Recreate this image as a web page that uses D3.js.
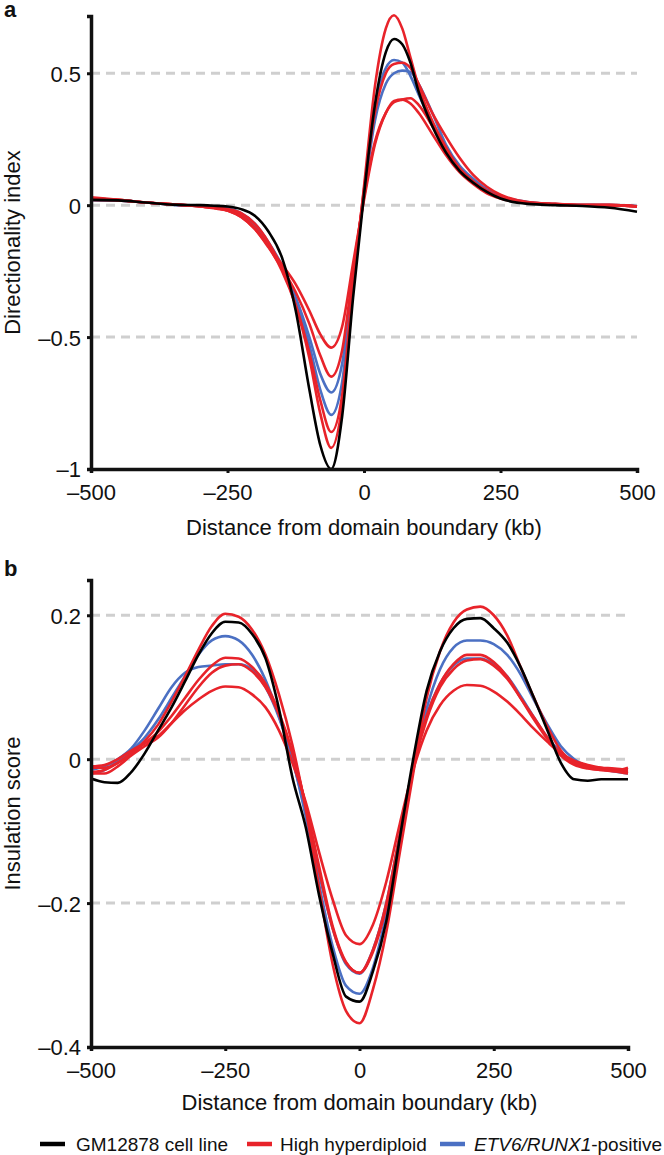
<!DOCTYPE html>
<html><head><meta charset="utf-8">
<script src="https://cdn.jsdelivr.net/npm/d3@7"></script>
<style>body{margin:0;background:#fff} text{font-family:"Liberation Sans",Arial,Helvetica,sans-serif;fill:#111;}</style>
</head><body><svg id="c" width="664" height="1155"></svg>
<script>
// ---------- Panel a: Directionality index ----------
const xA = [-500,-450,-400,-350,-300,-275,-250,-225,-200,-175,-150,-125,-100,-80,-60,-40,-20,0,20,40,55,70,85,100,125,150,175,200,225,250,300,350,400,450,500];
const aBlack = [0.02,0.018,0.01,0.002,0.0,-0.002,-0.005,-0.015,-0.04,-0.1,-0.2,-0.40,-0.70,-0.91,-1.0,-0.8,-0.35,0.04,0.38,0.58,0.63,0.61,0.54,0.43,0.30,0.20,0.13,0.085,0.05,0.025,0.005,0.0,-0.003,-0.01,-0.025];
const aRed1 = [0.025,0.02,0.01,0.003,-0.003,-0.008,-0.015,-0.03,-0.07,-0.14,-0.24,-0.38,-0.58,-0.79,-0.92,-0.76,-0.32,0.07,0.45,0.67,0.72,0.67,0.56,0.45,0.32,0.22,0.14,0.09,0.055,0.03,0.01,0.005,0.0,0.0,-0.005];
const aRed2 = [0.03,0.02,0.01,0.003,-0.005,-0.012,-0.02,-0.04,-0.085,-0.155,-0.25,-0.38,-0.56,-0.74,-0.86,-0.72,-0.3,0.06,0.35,0.50,0.535,0.54,0.52,0.46,0.35,0.26,0.18,0.115,0.07,0.04,0.012,0.005,0.0,0.0,-0.005];
const aRed3 = [0.02,0.018,0.01,0.003,-0.004,-0.01,-0.02,-0.045,-0.09,-0.16,-0.24,-0.33,-0.45,-0.57,-0.65,-0.55,-0.25,0.03,0.24,0.35,0.39,0.40,0.405,0.38,0.30,0.21,0.14,0.09,0.05,0.028,0.01,0.003,0.0,0.0,-0.005];
const aRed4 = [0.025,0.02,0.01,0.003,-0.004,-0.01,-0.02,-0.045,-0.09,-0.155,-0.225,-0.30,-0.40,-0.49,-0.54,-0.46,-0.22,0.02,0.23,0.35,0.395,0.40,0.385,0.35,0.27,0.19,0.125,0.08,0.045,0.025,0.008,0.002,0.0,0.0,-0.004];
const aBlue1 = [0.02,0.018,0.01,0.002,-0.003,-0.007,-0.012,-0.03,-0.07,-0.14,-0.23,-0.36,-0.53,-0.70,-0.795,-0.67,-0.29,0.05,0.37,0.52,0.55,0.54,0.49,0.42,0.31,0.21,0.14,0.09,0.055,0.032,0.01,0.003,0.0,0.0,-0.004];
const aBlue2 = [0.02,0.018,0.01,0.002,-0.003,-0.008,-0.015,-0.035,-0.075,-0.145,-0.235,-0.35,-0.50,-0.64,-0.71,-0.60,-0.27,0.04,0.32,0.46,0.50,0.51,0.505,0.46,0.35,0.23,0.15,0.10,0.06,0.035,0.012,0.004,0.0,0.0,-0.004];
const aYTicks = [-1,-0.5,0,0.5];

// ---------- Panel b: Insulation score ----------
const xB = [-500,-475,-450,-425,-400,-375,-350,-325,-300,-275,-250,-225,-200,-175,-150,-125,-100,-75,-50,-25,0,25,50,75,100,125,150,175,200,225,250,275,300,325,350,375,400,425,450,475,500];
const bBlack = [-0.027,-0.032,-0.033,-0.018,0.008,0.04,0.072,0.108,0.145,0.175,0.191,0.19,0.174,0.14,0.07,-0.025,-0.095,-0.19,-0.27,-0.33,-0.337,-0.295,-0.225,-0.11,0.0,0.095,0.15,0.182,0.195,0.196,0.182,0.162,0.128,0.085,0.04,-0.005,-0.028,-0.03,-0.028,-0.028,-0.028];
const bRed1 = [-0.012,-0.012,-0.005,0.008,0.025,0.048,0.08,0.115,0.152,0.185,0.202,0.198,0.18,0.145,0.09,0.02,-0.07,-0.18,-0.285,-0.35,-0.367,-0.32,-0.24,-0.13,-0.02,0.085,0.15,0.19,0.208,0.212,0.2,0.172,0.128,0.085,0.045,0.012,-0.005,-0.012,-0.015,-0.017,-0.02];
const bRed2 = [-0.018,-0.015,-0.005,0.008,0.022,0.038,0.06,0.085,0.11,0.13,0.141,0.14,0.128,0.105,0.065,0.01,-0.065,-0.155,-0.235,-0.283,-0.297,-0.265,-0.2,-0.105,-0.01,0.06,0.105,0.132,0.145,0.145,0.135,0.115,0.085,0.055,0.028,0.008,-0.005,-0.01,-0.012,-0.013,-0.015];
const bRed3 = [-0.02,-0.02,-0.01,0.005,0.018,0.03,0.05,0.075,0.1,0.12,0.13,0.132,0.122,0.1,0.062,0.008,-0.065,-0.15,-0.232,-0.282,-0.297,-0.268,-0.205,-0.11,-0.012,0.055,0.1,0.125,0.137,0.139,0.13,0.112,0.085,0.058,0.03,0.005,-0.008,-0.013,-0.015,-0.016,-0.012];
const bRed4 = [-0.01,-0.008,0.0,0.012,0.022,0.032,0.05,0.068,0.083,0.095,0.101,0.1,0.09,0.072,0.04,-0.005,-0.06,-0.13,-0.195,-0.245,-0.257,-0.23,-0.17,-0.09,-0.015,0.04,0.075,0.095,0.103,0.102,0.094,0.08,0.062,0.042,0.024,0.008,-0.002,-0.008,-0.012,-0.015,-0.018];
const bBlue1 = [-0.02,-0.015,-0.003,0.012,0.03,0.055,0.085,0.115,0.145,0.165,0.171,0.165,0.145,0.11,0.06,0.0,-0.08,-0.175,-0.26,-0.315,-0.326,-0.29,-0.215,-0.115,-0.015,0.07,0.125,0.155,0.165,0.165,0.16,0.145,0.118,0.082,0.048,0.018,0.0,-0.01,-0.014,-0.017,-0.02];
const bBlue2 = [-0.015,-0.01,0.0,0.015,0.04,0.07,0.1,0.12,0.128,0.13,0.132,0.132,0.125,0.1,0.058,0.0,-0.075,-0.16,-0.235,-0.285,-0.298,-0.265,-0.2,-0.105,-0.01,0.06,0.105,0.13,0.14,0.14,0.132,0.115,0.088,0.058,0.03,0.01,-0.004,-0.01,-0.013,-0.015,-0.016];
const bYTicks = [-0.4,-0.2,0,0.2];

const xTicks = [-500,-250,0,250,500];
const legendItems = ["GM12878 cell line","High hyperdiploid","ETV6/RUNX1"];

const RED = "#e8232a", BLUE = "#4b70c3", BLACK = "#000";
const svg = d3.select("#c");
svg.append("rect").attr("width",664).attr("height",1155).attr("fill","#fff");

function fmt(d){ const s = d3.format("~g")(Math.abs(d)); return d < 0 ? "\u2013" + s : s; }

function panel(cfg){
  const g = svg.append("g");
  const x = d3.scaleLinear().domain([-500,500]).range(cfg.xRange);
  const y = d3.scaleLinear().domain(cfg.yDomain).range(cfg.yRange);
  g.selectAll("line.grid").data(cfg.grid).join("line")
    .attr("x1", x(-500)).attr("x2", x(500))
    .attr("y1", d=>y(d)).attr("y2", d=>y(d))
    .attr("stroke","#cfcfcf").attr("stroke-width",3).attr("stroke-dasharray","9,6");
  const line = d3.line().x((d,i)=>x(cfg.xs[i])).y(d=>y(d)).curve(d3.curveMonotoneX);
  cfg.series.forEach(s=>{
    g.append("path").datum(s.v).attr("d",line).attr("fill","none")
      .attr("stroke",s.c).attr("stroke-width",2.6).attr("stroke-linejoin","round");
  });
  const ya = g.append("g").attr("transform",`translate(${cfg.xRange[0]},0)`)
    .call(d3.axisLeft(y).tickValues(cfg.yTicks).tickFormat(fmt).tickSizeOuter(0).tickSize(4).tickPadding(6));
  const xa = g.append("g").attr("transform",`translate(0,${cfg.yRange[0]})`)
    .call(d3.axisBottom(x).tickValues(xTicks).tickFormat(fmt).tickSizeOuter(0).tickSize(4).tickPadding(5));
  [ya,xa].forEach(a=>{
    a.select(".domain").attr("stroke","#111").attr("stroke-width",3.5);
    a.selectAll(".tick line").attr("stroke","#111").attr("stroke-width",3);
    a.selectAll(".tick text").attr("font-size",22).attr("fill","#111")
      .style("font-family",'"Liberation Sans",Arial,sans-serif');
  });
  ya.selectAll(".tick text").attr("dy","0.36em");
  xa.selectAll(".tick text").attr("dy","1em");
  svg.append("text").attr("x",(cfg.xRange[0]+cfg.xRange[1])/2).attr("y",cfg.xTitleY)
    .attr("text-anchor","middle").attr("font-size",22).text("Distance from domain boundary (kb)");
  svg.append("text").attr("transform",`translate(20,${(cfg.yRange[0]+cfg.yRange[1])/2}) rotate(-90)`)
    .attr("text-anchor","middle").attr("font-size",22).text(cfg.yTitle);
  svg.append("text").attr("x",4).attr("y",cfg.labelY).attr("font-size",22)
    .attr("font-weight","bold").text(cfg.label);
}

panel({xs:xA, xRange:[91,637], yDomain:[-1,0.717], yRange:[469,16], yTicks:aYTicks, grid:[-0.5,0,0.5],
  series:[{v:aBlue2,c:BLUE},{v:aBlue1,c:BLUE},{v:aRed4,c:RED},{v:aRed3,c:RED},{v:aRed2,c:RED},{v:aRed1,c:RED},{v:aBlack,c:BLACK}],
  yTitle:"Directionality index", label:"a", labelY:17, xTitleY:535});

panel({xs:xB, xRange:[91,628], yDomain:[-0.4,0.249], yRange:[1047,580], yTicks:bYTicks, grid:[-0.2,0,0.2],
  series:[{v:bBlue2,c:BLUE},{v:bBlue1,c:BLUE},{v:bRed4,c:RED},{v:bRed3,c:RED},{v:bRed2,c:RED},{v:bRed1,c:RED},{v:bBlack,c:BLACK}],
  yTitle:"Insulation score", label:"b", labelY:576, xTitleY:1110});

const lg = svg.append("g").attr("font-size",19);
const legX = [[40,76],[247,280],[440,474]];
const legC = [BLACK,RED,BLUE];
legendItems.forEach((t,i)=>{
  lg.append("line").attr("x1",legX[i][0]).attr("x2",legX[i][0]+25).attr("y1",1144).attr("y2",1144)
    .attr("stroke",legC[i]).attr("stroke-width",4.5);
  const tx = lg.append("text").attr("x",legX[i][1]).attr("y",1151);
  if(i===2){
    tx.append("tspan").attr("font-style","italic").text(t);
    tx.append("tspan").text("-positive");
  } else tx.text(t);
});
</script></body></html>
